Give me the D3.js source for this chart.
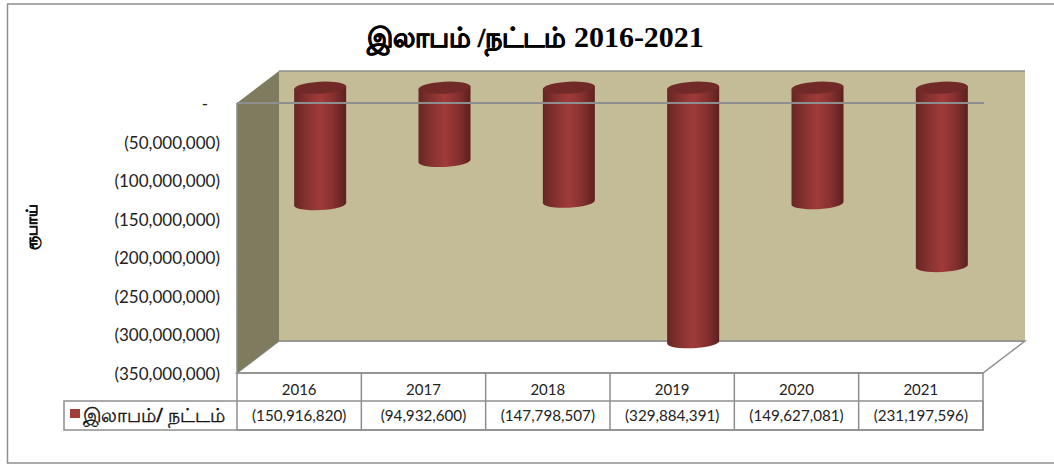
<!DOCTYPE html>
<html>
<head>
<meta charset="utf-8">
<script src="https://cdn.jsdelivr.net/npm/d3@7/dist/d3.min.js"></script>
<style>
  html, body { margin: 0; padding: 0; background: #fff; }
  svg { display: block; }
</style>
</head>
<body>
<script>
var years = ["2016", "2017", "2018", "2019", "2020", "2021"];
var profit = [-150916820, -94932600, -147798507, -329884391, -149627081, -231197596];
var yTicks = [0, -50000000, -100000000, -150000000, -200000000, -250000000, -300000000, -350000000];
var titleTamil = "இலாபம் /நட்டம்";
var titleYears = " 2016-2021";
var yTitle = "ரூபாய்";
var seriesName = "இலாபம்/ நட்டம்";

var width = 1054, height = 464;
var labelFont = "Lato, 'Open Sans', sans-serif";
var lineGrey = "#8e8e8e";

var svg = d3.select("body").append("svg")
  .attr("width", width)
  .attr("height", height);

// front plane of the 3d box, the back wall sits depthX/depthY away from it
var depthX = 42, depthY = -32;
var x = d3.scaleBand().domain(years).range([237, 983]);
var y = d3.scaleLinear().domain([0, -350000000]).range([103, 373]);

function num(v) {
  if (v === 0) return "-";
  return "(" + d3.format(",")(-v) + ")";
}

var defs = svg.append("defs");
var grad = defs.append("linearGradient").attr("id", "barFill");
grad.append("stop").attr("offset", "0%").attr("stop-color", "#672524");
grad.append("stop").attr("offset", "25%").attr("stop-color", "#863230");
grad.append("stop").attr("offset", "50%").attr("stop-color", "#9f3b39");
grad.append("stop").attr("offset", "75%").attr("stop-color", "#863130");
grad.append("stop").attr("offset", "100%").attr("stop-color", "#5c201f");

// outer frame, it runs off the right edge of the picture
svg.append("rect")
  .attr("x", 7.5).attr("y", 4)
  .attr("width", 1060).attr("height", 459)
  .attr("fill", "#fff")
  .attr("stroke", lineGrey).attr("stroke-width", 1.5);

var x0 = x.range()[0], x1 = x.range()[1];
var yTop = y(0), yBot = y(-350000000);

function pts(a) {
  return a.map(function (p) { return p.join(","); }).join(" ");
}

// floor
svg.append("polygon")
  .attr("points", pts([[x0, yBot], [x0 + depthX, yBot + depthY],
    [x1 + depthX, yBot + depthY], [x1, yBot]]))
  .attr("fill", "#fff").attr("stroke", lineGrey).attr("stroke-width", 1.5);

// back wall, only its top and bottom edges get a line
svg.append("polygon")
  .attr("points", pts([[x0 + depthX, yTop + depthY], [x1 + depthX, yTop + depthY],
    [x1 + depthX, yBot + depthY], [x0 + depthX, yBot + depthY]]))
  .attr("fill", "#c4bc96");
[yTop + depthY, yBot + depthY].forEach(function (ly) {
  svg.append("line")
    .attr("x1", x0 + depthX).attr("x2", x1 + depthX)
    .attr("y1", ly).attr("y2", ly)
    .attr("stroke", lineGrey).attr("stroke-width", 1.5);
});

// side wall
svg.append("polygon")
  .attr("points", pts([[x0, yTop], [x0 + depthX, yTop + depthY],
    [x0 + depthX, yBot + depthY], [x0, yBot]]))
  .attr("fill", "#7f7b5f");
svg.append("line")
  .attr("x1", x0).attr("x2", x0)
  .attr("y1", yTop).attr("y2", yBot)
  .attr("stroke", lineGrey).attr("stroke-width", 1.5);

// cylinders
var rx = 26, ry = 6, tilt = -3;
function cx(d) { return x(d) + x.bandwidth() / 2 + depthX / 2; }
function cy(v) { return y(v) + depthY / 2 + 0.7; }
var lift = rx * Math.sin(tilt * Math.PI / 180);

var bars = svg.selectAll("g.bar")
  .data(years)
  .enter()
  .append("g")
  .attr("class", "bar");

bars.append("path")
  .attr("fill", "url(#barFill)")
  .attr("d", function (d, i) {
    var c = cx(d), t = cy(0), b = cy(profit[i]);
    return "M" + (c - rx) + "," + (t - lift) +
      "L" + (c + rx) + "," + (t + lift) +
      "L" + (c + rx) + "," + (b + lift) +
      "A" + rx + "," + ry + " " + tilt + " 0 1 " + (c - rx) + "," + (b - lift) + "Z";
  });

bars.append("ellipse")
  .attr("rx", rx).attr("ry", ry)
  .attr("fill", "#722a28")
  .attr("transform", function (d) {
    return "translate(" + cx(d) + "," + cy(0) + ") rotate(" + tilt + ")";
  });

// zero line runs across the front of the bars
svg.append("line")
  .attr("x1", x0).attr("x2", x1 + 1)
  .attr("y1", y(0)).attr("y2", y(0))
  .attr("stroke", lineGrey).attr("stroke-width", 2);

// value axis
var yAxis = d3.axisLeft(y)
  .tickValues(yTicks)
  .tickSize(0)
  .tickPadding(17)
  .tickFormat(num);
var axisG = svg.append("g")
  .attr("transform", "translate(" + x0 + ",1)")
  .call(yAxis);
axisG.select(".domain").remove();
axisG.selectAll("text")
  .attr("font-family", labelFont)
  .attr("font-size", 17)
  .attr("fill", "#222")
  .attr("dx", function (d) { return d === 0 ? -12 : 0; });

svg.append("text")
  .attr("transform", "translate(37,227) rotate(-90)")
  .attr("text-anchor", "middle")
  .attr("font-family", "'Noto Sans', sans-serif")
  .attr("font-weight", "bold")
  .attr("font-size", 15)
  .attr("fill", "#111")
  .attr("stroke", "#111")
  .attr("stroke-width", 0.4)
  .text(yTitle);

// title
var title = svg.append("text")
  .attr("x", 535.5).attr("y", 47)
  .attr("text-anchor", "middle")
  .attr("font-family", "'Liberation Serif', serif")
  .attr("font-weight", "bold")
  .attr("fill", "#000");
title.append("tspan")
  .attr("font-size", 27)
  .attr("stroke", "#000")
  .attr("stroke-width", 0.6)
  .text(titleTamil);
title.append("tspan")
  .attr("font-size", 30)
  .text(titleYears);

// data table under the chart
var rowTop = 373, rowMid = 401, rowBot = 430, legendX = 64;
var table = svg.append("g")
  .attr("fill", "none")
  .attr("stroke", lineGrey)
  .attr("stroke-width", 1.5);

table.append("rect")
  .attr("x", x0).attr("y", rowTop)
  .attr("width", x1 - x0).attr("height", rowBot - rowTop);
table.append("rect")
  .attr("x", legendX).attr("y", rowMid)
  .attr("width", x1 - legendX).attr("height", rowBot - rowMid);
table.selectAll("line.col")
  .data(years.slice(1))
  .enter()
  .append("line")
  .attr("class", "col")
  .attr("x1", function (d) { return x(d); })
  .attr("x2", function (d) { return x(d); })
  .attr("y1", rowTop).attr("y2", rowBot);

svg.selectAll("text.year")
  .data(years)
  .enter()
  .append("text")
  .attr("class", "year")
  .attr("x", function (d) { return x(d) + x.bandwidth() / 2; })
  .attr("y", 395)
  .attr("text-anchor", "middle")
  .attr("font-family", labelFont)
  .attr("font-size", 15)
  .attr("fill", "#222")
  .text(function (d) { return d; });

svg.selectAll("text.val")
  .data(profit)
  .enter()
  .append("text")
  .attr("class", "val")
  .attr("x", function (d, i) { return x(years[i]) + x.bandwidth() / 2; })
  .attr("y", 421)
  .attr("text-anchor", "middle")
  .attr("font-family", labelFont)
  .attr("font-size", 15.2)
  .attr("fill", "#222")
  .text(num);

svg.append("rect")
  .attr("x", 70).attr("y", 409)
  .attr("width", 10).attr("height", 9)
  .attr("fill", "#a03c3a");

svg.append("text")
  .attr("x", 83).attr("y", 422)
  .attr("font-family", "'Noto Sans', sans-serif")
  .attr("font-size", 19.2)
  .attr("fill", "#111")
  .attr("stroke", "#111")
  .attr("stroke-width", 0.35)
  .text(seriesName);
</script>
</body>
</html>
